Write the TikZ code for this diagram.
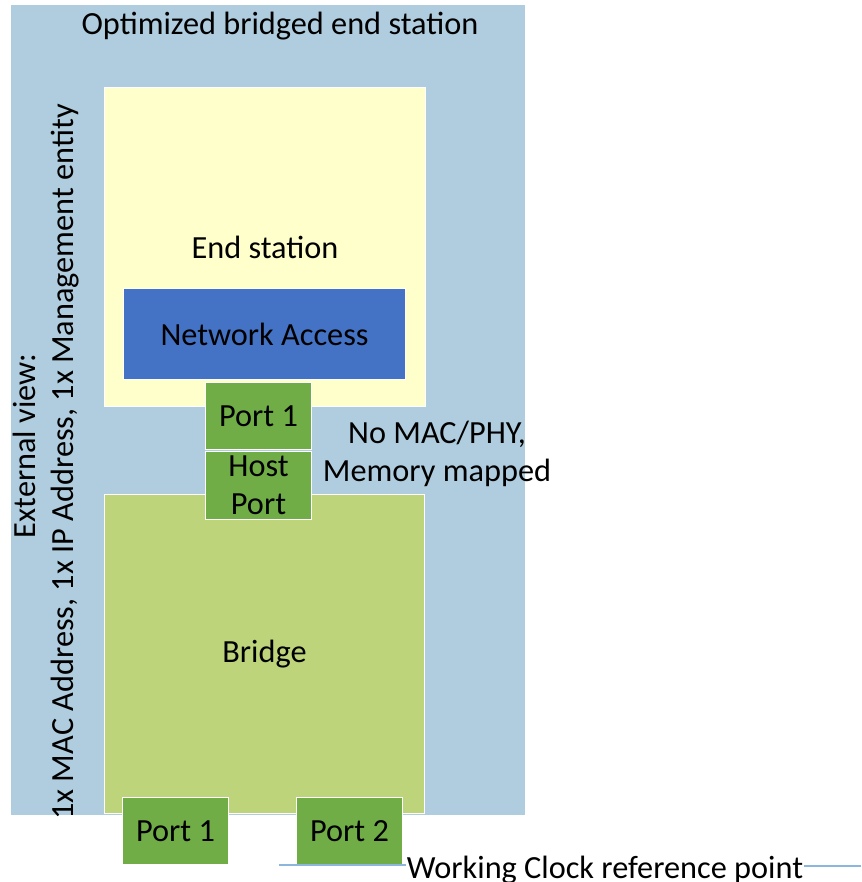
\documentclass[tikz,border=0pt]{standalone}
\usepackage{fontspec}
\setmainfont{Carlito}
\definecolor{outerblue}{RGB}{175,205,222}
\definecolor{stationyellow}{RGB}{255,255,204}
\definecolor{accessblue}{RGB}{68,114,196}
\definecolor{portgreen}{RGB}{112,173,71}
\definecolor{bridgegreen}{RGB}{190,212,123}
\definecolor{refline}{RGB}{140,182,222}
\begin{document}
\begin{tikzpicture}[x=1pt,y=-1pt,
  every node/.style={font=\fontsize{32.3}{38}\selectfont, text=black},
  area/.style={draw=white, line width=1pt, inner sep=0pt, anchor=north west},
  portbox/.style={area, fill=portgreen, minimum width=106pt, minimum height=67pt, align=center},
  clockline/.style={draw=refline, line width=1.2pt}]
\useasboundingbox (0,0) rectangle (861,882);

% enclosing end station
\node[area, draw=none, fill=outerblue, minimum width=514pt, minimum height=809pt] (outer) at (10,5) {};
\node (title) at (280,26) {Optimized bridged end station};

% end station with its network access
\node[area, fill=stationyellow, minimum width=321pt, minimum height=319pt] (station) at (104,87) {End station};
\node[area, fill=accessblue, minimum width=282pt, minimum height=91pt] (access) at (123,288) {Network Access};

% bridge
\node[area, fill=bridgegreen, minimum width=320pt, minimum height=319pt] (bridge) at (104,494) {Bridge};

% ports
\node[portbox] (esport) at (205,382) {Port 1};
\node[portbox, minimum height=68pt] (hostport) at (205,451) {Host\\Port};
\node[portbox] (bport1) at (122,797) {Port 1};
\node[portbox] (bport2) at (296,797) {Port 2};

% annotations
\node[align=center] (memmap) at (437,454) {No MAC/PHY,\\Memory mapped};
\node[rotate=90, align=center] (extview) at (46,462) {\hspace*{32pt}External view:\\1x MAC Address, 1x IP Address, 1x Management entity};

% working clock reference line
\node[anchor=base, inner sep=1pt] (wclock) at (605,878) {Working Clock reference point};
\coordinate (wl) at (279,865);
\coordinate (wr) at (861,866);
\draw[clockline] (wl) -- (wl -| wclock.west);
\draw[clockline] (wclock.east |- wr) -- (wr);
\end{tikzpicture}
\end{document}
